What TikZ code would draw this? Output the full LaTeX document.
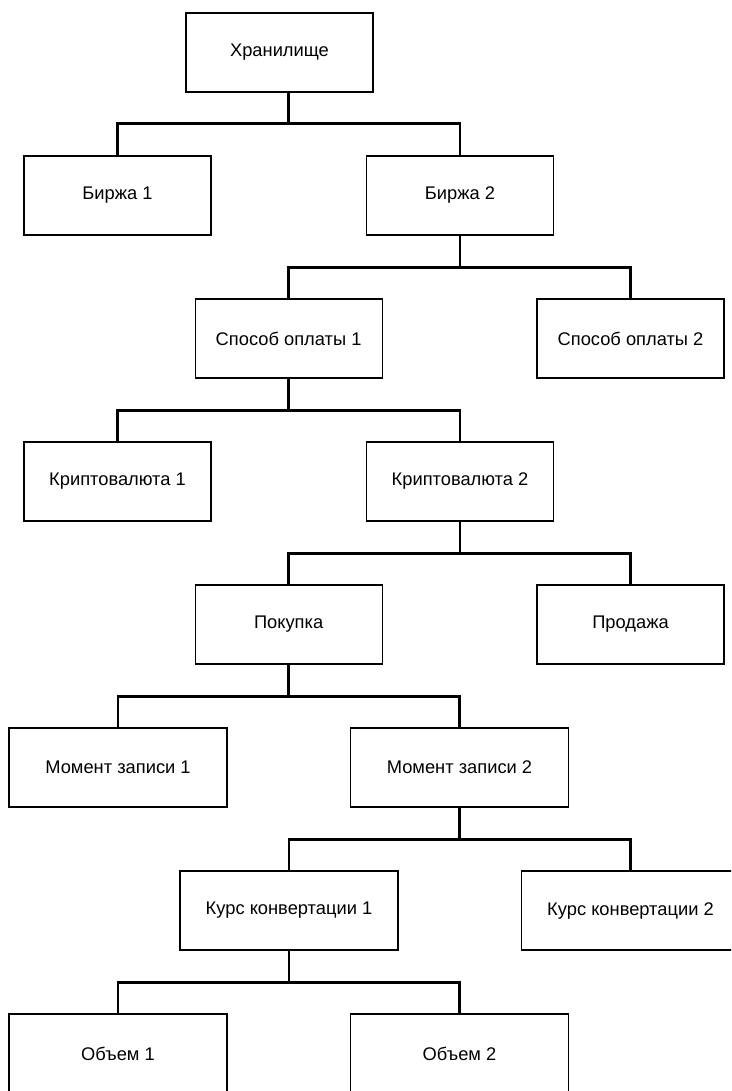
\documentclass[tikz,border=0pt]{standalone}
\usepackage{fontspec}
\setmainfont{Liberation Sans}

\tikzset{
	box/.style = {draw, line width=1.2pt, minimum width=187pt, minimum height=79pt, inner sep=0pt, font=\fontsize{18.3}{21}\selectfont},
	wide/.style = {box, minimum width=218pt},
	link/.style = {line width=2.6pt}
}

\begin{document}
\begin{tikzpicture}[x=1pt, y=-1pt]
\useasboundingbox (0,0) rectangle (731,1091);
\clip (0,0) rectangle (731,1091);

\node at (279.5, 52.5)[box](S){Хранилище};

\node at (117.5, 195.5)[box](B1){Биржа 1};
\node at (460, 195.5)[box](B2){Биржа 2};

\node at (288.6, 338.5)[box](P1){Способ оплаты 1};
\node at (630.5, 338.5)[box](P2){Способ оплаты 2};

\node at (117.5, 481.5)[box](K1){Криптовалюта 1};
\node at (460, 481.5)[box](K2){Криптовалюта 2};

\node at (288.6, 624.5)[box](Buy){Покупка};
\node at (630.5, 624.5)[box](Sell){Продажа};

\node at (118, 767.5)[wide](M1){Момент записи 1};
\node at (459.5, 767.5)[wide](M2){Момент записи 2};

\node at (289, 910.5)[wide](R1){Курс конвертации 1};
\node at (630.5, 910.5)[wide](R2){Курс конвертации 2};

\node at (118, 1053.5)[wide](V1){Объем 1};
\node at (459.5, 1053.5)[wide](V2){Объем 2};

% root line sits over the middle of its children
\draw[link] ([xshift=9.1pt]S.south) -- ++(0,31) -| (B1.north);
\draw[link] ([xshift=9.1pt]S.south) -- ++(0,31) -| (B2.north);

\foreach \p/\c in {B2/P1, B2/P2, P1/K1, P1/K2, K2/Buy, K2/Sell, Buy/M1, Buy/M2, M2/R1, M2/R2, R1/V1, R1/V2}
	\draw[link] (\p.south) -- ++(0,32) -| (\c.north);

\end{tikzpicture}
\end{document}
